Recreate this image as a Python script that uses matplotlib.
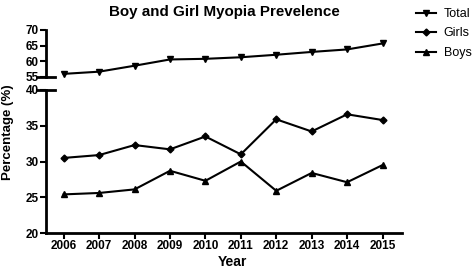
import matplotlib
matplotlib.use('Agg')
import matplotlib.pyplot as plt
from matplotlib.lines import Line2D

years = [2006, 2007, 2008, 2009, 2010, 2011, 2012, 2013, 2014, 2015]
total = [56.0, 56.7, 58.6, 60.6, 60.8, 61.3, 62.1, 63.0, 63.8, 65.7]
girls = [30.5, 30.9, 32.3, 31.7, 33.5, 31.0, 35.9, 34.2, 36.6, 35.8]
boys = [25.4, 25.6, 26.1, 28.7, 27.3, 30.0, 25.9, 28.4, 27.1, 29.5]

plt.rcParams['font.family'] = ['Liberation Sans', 'DejaVu Sans']

fig = plt.figure(figsize=(4.72, 2.72), dpi=100)
left, right = 46 / 472, 402 / 472
ax_top = fig.add_axes([left, 1 - 77 / 272, right - left, 47 / 272])
ax_bot = fig.add_axes([left, 1 - 233 / 272, right - left, 143 / 272])

lw = 1.5
ax_top.plot(years, total, color='black', lw=lw, marker='v', ms=5, clip_on=False)
ax_bot.plot(years, girls, color='black', lw=lw, marker='D', ms=3.5, clip_on=False)
ax_bot.plot(years, boys, color='black', lw=lw, marker='^', ms=5, clip_on=False)

for ax in (ax_top, ax_bot):
    ax.set_xlim(2005.5, 2015.55)
    for s in ('top', 'right'):
        ax.spines[s].set_visible(False)
    ax.spines['left'].set_linewidth(2)
    ax.spines['bottom'].set_linewidth(2)
    ax.tick_params(width=1.5, length=4, labelsize=8.5, pad=1)

ax_top.set_ylim(55, 70)
ax_top.set_yticks([55, 60, 65, 70])
ax_top.spines['bottom'].set_visible(False)
ax_top.set_xticks([])
ax_top.plot([-0.025, 0.025], [0, 0], transform=ax_top.transAxes,
            color='black', lw=2, clip_on=False)

ax_bot.set_ylim(20, 40)
ax_bot.set_yticks([20, 25, 30, 35, 40])
ax_bot.set_xticks(years)
ax_bot.plot([-0.025, 0.025], [1, 1], transform=ax_bot.transAxes,
            color='black', lw=2, clip_on=False)
for lab in ax_bot.get_yticklabels() + ax_bot.get_xticklabels() + ax_top.get_yticklabels():
    lab.set_fontweight('bold')

fig.text(232 / 472, 1 - 262 / 272, 'Year', ha='center', va='center',
         fontsize=10, fontweight='bold')
fig.text(0.018, 1 - 132 / 272, 'Percentage (%)', rotation=90, ha='center', va='center',
         fontsize=9.5, fontweight='bold')
fig.text(224 / 472, 1 - 12 / 272, 'Boy and Girl Myopia Prevelence', ha='center',
         va='center', fontsize=10.9, fontweight='bold')

handles = [Line2D([], [], color='black', lw=lw, marker='v', ms=5),
           Line2D([], [], color='black', lw=lw, marker='D', ms=3.5),
           Line2D([], [], color='black', lw=lw, marker='^', ms=5)]
fig.legend(handles, ['Total', 'Girls', 'Boys'], loc='upper left',
           bbox_to_anchor=(405 / 472, 1.012), frameon=False, fontsize=9,
           handlelength=1.6, handletextpad=0.6, labelspacing=0.6)

fig.savefig('out.png', dpi=100)
